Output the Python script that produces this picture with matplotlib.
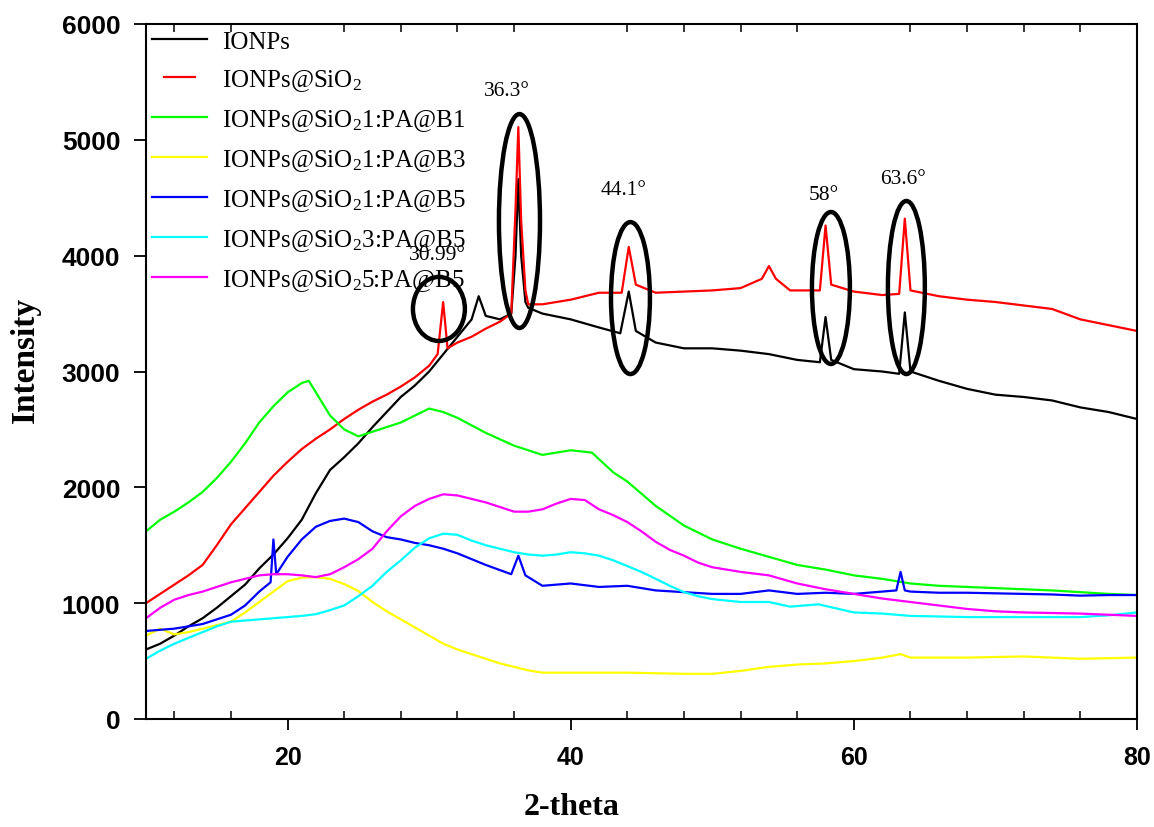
import matplotlib
matplotlib.use("Agg")
import matplotlib.pyplot as plt
from matplotlib.patches import Ellipse
from matplotlib.legend_handler import HandlerLine2D

# ---------------- data ----------------
labels = ["IONPs",
          r"IONPs@SiO$_\mathrm{2}$",
          r"IONPs@SiO$_\mathrm{2}$1:PA@B1",
          r"IONPs@SiO$_\mathrm{2}$1:PA@B3",
          r"IONPs@SiO$_\mathrm{2}$1:PA@B5",
          r"IONPs@SiO$_\mathrm{2}$3:PA@B5",
          r"IONPs@SiO$_\mathrm{2}$5:PA@B5"]
colors = ["#000000", "#FF0000", "#00FF00", "#FFFF00", "#0000FF", "#00FFFF", "#FF00FF"]

x_ionps = [10, 11, 12, 13, 14, 15, 16, 17, 18, 19, 20, 21, 22, 23, 24, 25, 26, 27, 28, 29, 30,
           31, 32, 33, 33.5, 34, 35, 35.8, 36.1, 36.3, 36.5, 36.8, 37, 38, 40, 42, 43.5, 44.1,
           44.6, 46, 48, 50, 52, 54, 56, 57.6, 58, 58.4, 60, 62, 63.2, 63.6, 64, 66, 68, 70,
           72, 74, 76, 78, 80]
y_ionps = [600, 650, 720, 800, 870, 960, 1060, 1160, 1300, 1420, 1560, 1720, 1950, 2150, 2260,
           2380, 2520, 2650, 2780, 2880, 3000, 3150, 3300, 3450, 3650, 3480, 3450, 3500, 4000,
           4660, 4000, 3600, 3550, 3500, 3450, 3380, 3330, 3690, 3350, 3250, 3200, 3200, 3180,
           3150, 3100, 3080, 3470, 3100, 3020, 3000, 2980, 3510, 3000, 2920, 2850, 2800, 2780,
           2750, 2690, 2650, 2590]

x_sio2 = [10, 11, 12, 13, 14, 15, 16, 17, 18, 19, 20, 21, 22, 23, 24, 25, 26, 27, 28, 29, 30,
          30.6, 30.99, 31.3, 32, 33, 34, 35, 35.8, 36.1, 36.3, 36.5, 36.8, 37, 38, 40, 42, 43.6,
          44.1, 44.6, 46, 48, 50, 52, 53.5, 54, 54.5, 55.5, 57.6, 58, 58.4, 60, 62, 63.2, 63.6,
          64, 66, 68, 70, 72, 74, 76, 78, 80]
y_sio2 = [1000, 1080, 1160, 1240, 1330, 1500, 1680, 1820, 1960, 2100, 2220, 2330, 2420, 2500,
          2590, 2670, 2740, 2800, 2870, 2950, 3050, 3150, 3600, 3200, 3250, 3300, 3370, 3430,
          3500, 4400, 5110, 4300, 3700, 3580, 3580, 3620, 3680, 3680, 4075, 3750, 3680, 3690,
          3700, 3720, 3800, 3910, 3800, 3700, 3700, 4260, 3750, 3690, 3660, 3670, 4320, 3700,
          3650, 3620, 3600, 3570, 3540, 3450, 3400, 3350]

x_b1 = [10, 11, 12, 13, 14, 15, 16, 17, 18, 19, 20, 21, 21.5, 22, 23, 24, 25, 26, 27, 28, 29,
        30, 31, 32, 34, 36, 38, 40, 41.5, 43, 44, 46, 48, 50, 52, 54, 56, 58, 60, 62, 64, 66,
        68, 70, 72, 74, 76, 78, 80]
y_b1 = [1620, 1720, 1790, 1870, 1960, 2080, 2220, 2380, 2560, 2700, 2820, 2900, 2920, 2820,
        2620, 2500, 2440, 2480, 2520, 2560, 2620, 2680, 2650, 2600, 2470, 2360, 2280, 2320,
        2300, 2130, 2050, 1840, 1670, 1550, 1470, 1400, 1330, 1290, 1240, 1210, 1170, 1150,
        1140, 1130, 1120, 1110, 1095, 1080, 1070]

x_b3 = [10, 11, 12, 13, 14, 15, 16, 17, 18, 19, 20, 21, 22, 23, 24, 25, 26, 27, 28, 29, 30,
        31, 32, 33, 34, 35, 36, 37, 38, 40, 42, 44, 46, 48, 50, 52, 54, 56, 58, 60, 62, 63.3,
        64, 66, 68, 70, 72, 74, 76, 78, 80]
y_b3 = [720, 780, 730, 750, 780, 810, 840, 920, 1010, 1100, 1190, 1220, 1225, 1210, 1165,
        1105, 1010, 930, 860, 790, 720, 650, 600, 560, 520, 480, 450, 420, 400, 400, 400, 400,
        395, 390, 390, 415, 450, 470, 480, 500, 530, 560, 530, 530, 530, 535, 540, 530, 520,
        525, 530]

x_b5 = [10, 12, 14, 16, 17, 18, 18.8, 19, 19.2, 20, 21, 22, 23, 24, 25, 26, 27, 28, 29, 30,
        31, 32, 34, 35.8, 36.3, 36.8, 38, 40, 42, 44, 46, 48, 50, 52, 54, 56, 58, 60, 62, 63,
        63.3, 63.6, 64, 66, 68, 70, 72, 74, 76, 78, 80]
y_b5 = [760, 780, 820, 900, 980, 1100, 1180, 1550, 1250, 1400, 1550, 1660, 1710, 1730, 1700,
        1620, 1570, 1550, 1520, 1500, 1470, 1430, 1330, 1250, 1410, 1240, 1150, 1170, 1140,
        1150, 1110, 1095, 1080, 1080, 1110, 1080, 1090, 1080, 1100, 1110, 1270, 1110, 1100,
        1090, 1090, 1085, 1080, 1075, 1065, 1070, 1070]

x_3b5 = [10, 11, 12, 13, 14, 15, 16, 17, 18, 19, 20, 21, 22, 23, 24, 25, 26, 27, 28, 29, 30,
         31, 32, 33, 34, 35, 36, 37, 38, 39, 40, 41, 42, 43, 44, 45, 46, 47, 48, 49, 50, 52,
         54, 55.5, 57.5, 60, 62, 64, 66, 68, 72, 76, 78, 80]
y_3b5 = [520, 590, 650, 700, 750, 800, 840, 850, 860, 870, 880, 890, 905, 940, 980, 1060,
         1150, 1270, 1370, 1480, 1560, 1600, 1590, 1540, 1500, 1470, 1440, 1420, 1410, 1420,
         1440, 1430, 1410, 1370, 1320, 1270, 1210, 1150, 1095, 1060, 1035, 1010, 1010, 970,
         990, 920, 910, 890, 885, 880, 880, 880, 895, 920]

x_5b5 = [10, 11, 12, 13, 14, 15, 16, 17, 18, 19, 20, 21, 22, 23, 24, 25, 26, 27, 28, 29, 30,
         31, 32, 33, 34, 35, 36, 37, 38, 39, 40, 41, 42, 43, 44, 45, 46, 47, 48, 49, 50, 52,
         54, 56, 58, 60, 62, 64, 66, 68, 70, 72, 74, 76, 78, 80]
y_5b5 = [870, 960, 1030, 1070, 1100, 1140, 1180, 1210, 1240, 1250, 1250, 1240, 1225, 1250,
         1310, 1380, 1470, 1620, 1750, 1840, 1900, 1940, 1930, 1900, 1870, 1830, 1790, 1790,
         1810, 1860, 1900, 1890, 1810, 1760, 1700, 1620, 1530, 1460, 1410, 1350, 1310, 1270,
         1240, 1170, 1120, 1080, 1040, 1010, 980, 950, 930, 920, 915, 910, 900, 890]

series_x = [x_ionps, x_sio2, x_b1, x_b3, x_b5, x_3b5, x_5b5]
series_y = [y_ionps, y_sio2, y_b1, y_b3, y_b5, y_3b5, y_5b5]

# peak annotations: label, text position, ellipse centre / size (data units)
peak_labels = ["30.99°", "36.3°", "44.1°", "58°", "63.6°"]
peak_text_x = [30.55, 35.49, 43.76, 57.88, 63.46]
peak_text_y = [4014, 5422, 4575, 4532, 4662]
ell_x = [30.69, 36.38, 44.22, 58.38, 63.71]
ell_y = [3540, 4299, 3634, 3721, 3725]
ell_w = [3.67, 2.90, 2.75, 2.68, 2.61]
ell_h = [553, 1847, 1312, 1312, 1494]

xticks = [20, 40, 60, 80]
xminor = [12, 16, 24, 28, 32, 36, 44, 48, 52, 56, 64, 68, 72, 76]
yticks = [0, 1000, 2000, 3000, 4000, 5000, 6000]

# ---------------- plotting ----------------
plt.rcParams['mathtext.fontset'] = 'custom'
plt.rcParams['mathtext.rm'] = 'Liberation Serif'
plt.rcParams['mathtext.it'] = 'Liberation Serif:italic'


class ShortHandler(HandlerLine2D):
    """Legend handle drawn shorter and shifted right (as in the reference)."""
    def create_artists(self, legend, orig_handle, xdescent, ydescent, width, height,
                       fontsize, trans):
        shift = width * 0.22
        return super().create_artists(legend, orig_handle, xdescent - shift, ydescent,
                                      width * 0.55, height, fontsize, trans)


fig = plt.figure(figsize=(11.54, 8.28), dpi=100)
ax = fig.add_axes([146 / 1154, 108 / 828, (1137 - 146) / 1154, (720 - 25) / 828])

lines = []
for xs, ys, c, lab in zip(series_x, series_y, colors, labels):
    ln, = ax.plot(xs, ys, color=c, lw=1.6, label=lab)
    lines.append(ln)

for xe, ye, we, he in zip(ell_x, ell_y, ell_w, ell_h):
    ax.add_patch(Ellipse((xe, ye), we, he, fill=False, edgecolor='black', lw=3.2, zorder=5))
for lab, tx, ty in zip(peak_labels, peak_text_x, peak_text_y):
    ax.text(tx, ty, lab, ha='center', va='center', fontsize=15.5,
            family='Liberation Serif', zorder=6)

ax.set_xlim(10, 80)
ax.set_ylim(0, 6000)
ax.set_xticks(xticks)
ax.set_xticks(xminor, minor=True)
ax.set_yticks(yticks)
ax.set_yticklabels([str(v) for v in yticks], fontsize=19, family='Liberation Sans',
                   fontweight='bold')
ax.set_xticklabels([str(v) for v in xticks], fontsize=18,
                   family=['Liberation Sans Narrow', 'Liberation Sans'], fontweight='bold')

for s in ax.spines.values():
    s.set_linewidth(1.5)

ax.tick_params(axis='x', which='major', direction='out', length=8, width=1.3,
               top=False, bottom=True, pad=11)
ax.tick_params(axis='x', which='minor', direction='in', length=6, width=1.1,
               top=True, bottom=True)
ax.tick_params(axis='y', which='major', direction='out', length=8.5, width=1.3,
               left=True, right=False, pad=10)

leg = ax.legend(handles=lines, loc='upper left', frameon=False,
                prop={'family': 'Liberation Serif', 'size': 18},
                handlelength=2.2, handletextpad=0.6, labelspacing=0.56,
                borderaxespad=0.15, borderpad=0.1,
                handler_map={lines[1]: ShortHandler()})

fig.text(25 / 1154, 1 - 360 / 828, "Intensity", rotation=90, ha='center', va='center',
         fontsize=24, family='Liberation Serif', fontweight='bold')
fig.text(572 / 1154, 1 - 808 / 828, "2-theta", ha='center', va='center',
         fontsize=23, family='Liberation Serif', fontweight='bold')

fig.savefig("out.png", dpi=100)
